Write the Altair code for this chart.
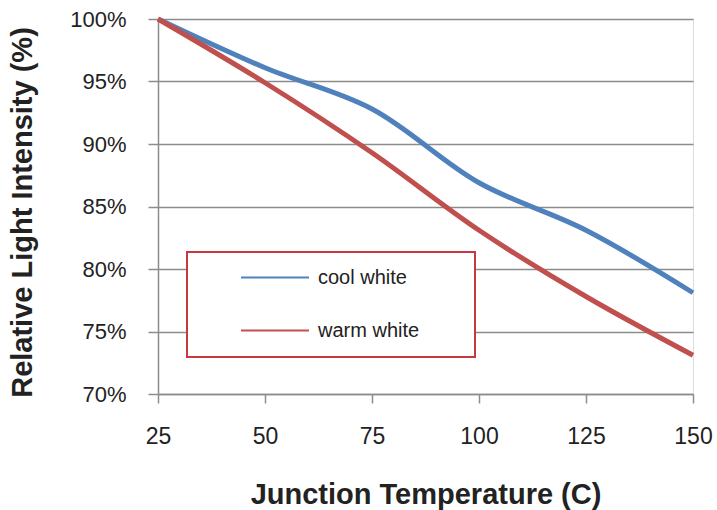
import altair as alt
import pandas as pd

temps = [25, 50, 75, 100, 125, 150]
cool_white = [100, 96.1, 92.8, 86.9, 83.1, 78.1]
warm_white = [100, 94.9, 89.3, 83.1, 77.8, 73.1]
series_names = ["cool white", "warm white"]
series_colors = ["#4F81BD", "#C0504D"]
y_ticks = [70, 75, 80, 85, 90, 95, 100]
x_ticks = [25, 50, 75, 100, 125, 150]

rows = []
for name, vals in zip(series_names, [cool_white, warm_white]):
    for t, v in zip(temps, vals):
        rows.append({"temp": t, "value": v, "series": name})
df = pd.DataFrame(rows)

FONT = "Liberation Sans"
# trailing non-breaking spaces widen the legend box; the zero-width space keeps them from being trimmed
PAD = "\u00a0" * 7 + "\u200b"

chart = alt.Chart(df).mark_line(strokeWidth=5, interpolate="catmull-rom").encode(
    x=alt.X(
        "temp:Q",
        scale=alt.Scale(domain=[25, 150], nice=False, zero=False),
        axis=alt.Axis(
            title="Junction Temperature (C)",
            values=x_ticks,
            grid=False,
            tickSize=9,
            tickColor="#8c8c8c",
            tickWidth=1.5,
            domainColor="#8c8c8c",
            domainWidth=1.5,
            labelFont=FONT,
            labelFontSize=23,
            labelColor="#222222",
            labelPadding=22,
            labelFlush=False,
            titleFont=FONT,
            titleFontSize=29,
            titleFontWeight="bold",
            titleColor="#222222",
            titleBaseline="alphabetic",
            titleY=109,
        ),
    ),
    y=alt.Y(
        "value:Q",
        scale=alt.Scale(domain=[70, 100], nice=False, zero=False),
        axis=alt.Axis(
            title="Relative Light Intensity (%)",
            values=y_ticks,
            labelExpr="datum.value + '%'",
            grid=True,
            gridColor="#8c8c8c",
            gridWidth=1.5,
            tickSize=10,
            tickColor="#8c8c8c",
            tickWidth=1.5,
            domainColor="#8c8c8c",
            domainWidth=1.5,
            labelFont=FONT,
            labelFontSize=22,
            labelColor="#222222",
            labelPadding=22,
            labelFlush=False,
            titleFont=FONT,
            titleFontSize=29,
            titleFontWeight="bold",
            titleColor="#222222",
            titleBaseline="middle",
            titleX=-136,
            titleY=193,
        ),
    ),
    color=alt.Color(
        "series:N",
        scale=alt.Scale(domain=series_names, range=series_colors),
        legend=alt.Legend(
            title=None,
            orient="none",
            legendX=29,
            legendY=233,
            padding=16,
            strokeColor="#C8383F",
            fillColor="white",
            symbolType="stroke",
            symbolSize=4624,
            symbolStrokeWidth=2,
            symbolOffset=37,
            labelOffset=8,
            clipHeight=19,
            rowPadding=32,
            labelFont=FONT,
            labelFontSize=20,
            labelColor="#222222",
            labelLimit=400,
            labelExpr="datum.label + '" + PAD + "'",
        ),
    ),
    order=alt.Order("series:N"),
).properties(
    width=535,
    height=375,
    padding={"left": 158, "top": 19, "right": 24, "bottom": 116},
    autosize="none",
).configure_view(stroke=None).configure(background="white").configure_legend(strokeWidth=2)

chart.save("out.html", embed_options={"renderer": "svg", "actions": False})
